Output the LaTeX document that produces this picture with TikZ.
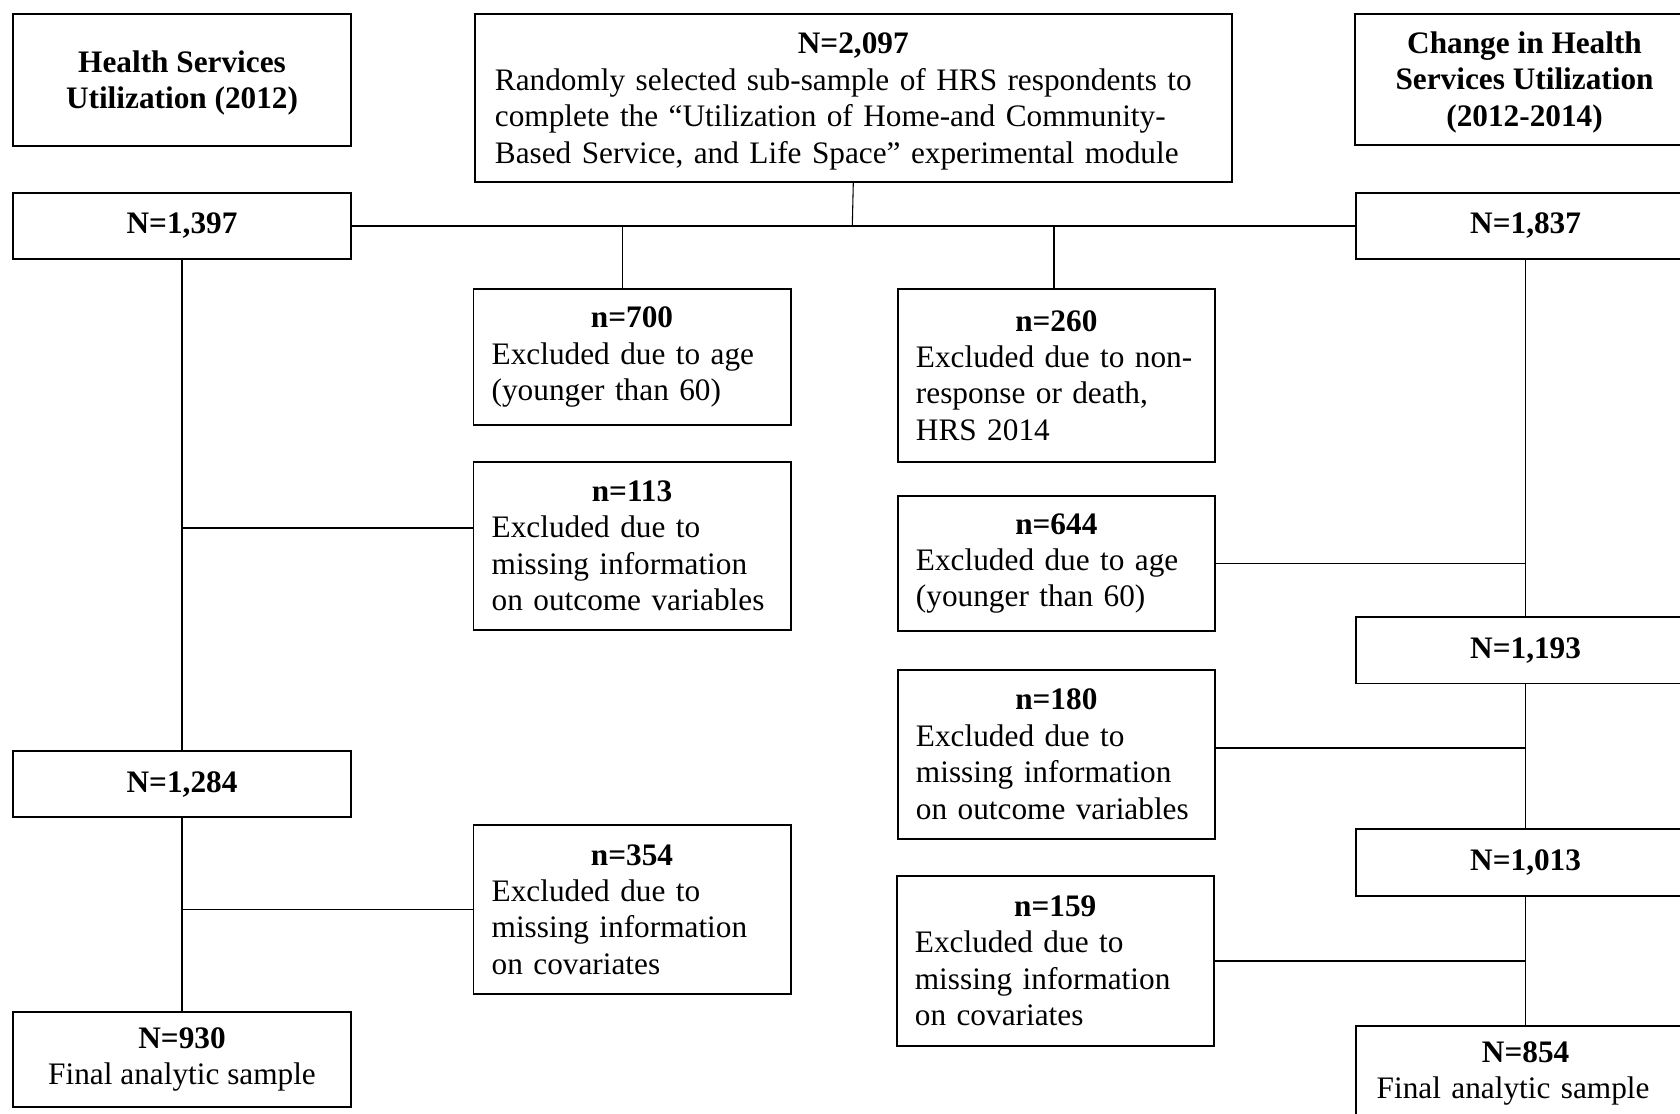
\documentclass[tikz,border=0pt]{standalone}
\usepackage{fontspec}
\setmainfont{Liberation Serif}
\newcommand{\hdr}[1]{{\centering\bfseries #1\par}}

\begin{document}
\begin{tikzpicture}[x=0.5pt, y=-0.5pt,
  box/.style={draw, line width=0.9pt, anchor=north west, inner xsep=8.5pt,
    inner ysep=2pt, font=\fontsize{14.6}{17}\selectfont},
  nbox/.style={box, minimum width=158pt, minimum height=31pt, align=center,
    font=\fontsize{14.6}{17}\selectfont\bfseries},
  xbox/.style={box, text width=131pt, align=left, minimum height=#1},
  link/.style={line width=0.8pt}]
\useasboundingbox (0,0) rectangle (1568,1039);

% column titles and study sample
\node[nbox, minimum height=61.5pt, text depth=-4.5pt] (ttlA) at (11,12) {Health Services\\Utilization (2012)};
\node[box, text width=334.5pt, inner xsep=9.5pt, align=left, minimum height=78.5pt, text height=13pt] (top) at (442,12)
  {\hdr{N=2,097}Randomly selected sub-sample of HRS respondents to\\
   complete the “Utilization of Home-and Community-\\
   Based Service, and Life Space” experimental module};
\node[nbox, minimum height=61pt, text depth=0.3pt] (ttlB) at (1264,12) {Change in Health\\Services Utilization\\(2012-2014)};

% samples
\node[nbox] (n1397) at (11,179) {N=1,397};
\node[nbox] (n1837) at (1265,179) {N=1,837};
\node[nbox] (n1284) at (11,700) {N=1,284};
\node[nbox] (n1193) at (1265,575) {N=1,193};
\node[nbox] (n1013) at (1265,773) {N=1,013};
\node[box, minimum width=158pt, minimum height=44pt, align=center] (n930) at (11,944)
  {\textbf{N=930}\\Final analytic sample};
\node[box, text width=139pt, inner xsep=9.5pt, align=left, minimum height=44pt] (n854) at (1265,957)
  {\hdr{N=854}Final analytic sample};

% exclusions
\node[xbox=63.5pt] (x700) at (441,269) {\hdr{n=700}Excluded due to age\\(younger than 60)};
\node[xbox=80.5pt] (x260) at (837,269) {\hdr{n=260}Excluded due to non-\\response or death,\\HRS 2014};
\node[xbox=78.5pt] (x113) at (441,430) {\hdr{n=113}Excluded due to\\missing information\\on outcome variables};
\node[xbox=63pt] (x644) at (837,462) {\hdr{n=644}Excluded due to age\\(younger than 60)};
\node[xbox=79pt] (x180) at (837,624) {\hdr{n=180}Excluded due to\\missing information\\on outcome variables};
\node[xbox=79pt] (x354) at (441,769) {\hdr{n=354}Excluded due to\\missing information\\on covariates};
\node[xbox=79pt] (x159) at (836,817) {\hdr{n=159}Excluded due to\\missing information\\on covariates};

\coordinate (j0) at (795.5,210);
\coordinate (j700) at (581,210);
\coordinate (j260) at (984,210);
\coordinate (b113) at (441,493);
\coordinate (b180) at (1133,698);

% split
\draw[line width=0.5pt] (top.south) -- (j0);
\draw[link] (n1397.east) -- (n1837.west);
\draw[link] (j700) -- (j700 |- x700.north);
\draw[link] (j260) -- (j260 |- x260.north);

% left flow
\draw[link] (n1397.south) -- (n1284.north);
\draw[link] (b113) -- (b113 -| n1397.south);
\draw[link] (n1284.south) -- (n930.north);
\draw[link] (x354.west) -- (x354.west -| n1284.south);

% right flow
\draw[link] (n1837.south) -- (n1193.north);
\draw[link] (x644.east) -- (x644.east -| n1837.south);
\draw[link] (n1193.south) -- (n1013.north);
\draw[link] (b180) -- (b180 -| n1193.south);
\draw[link] (n1013.south) -- (n854.north);
\draw[link] (x159.east) -- (x159.east -| n1013.south);
\end{tikzpicture}
\end{document}
